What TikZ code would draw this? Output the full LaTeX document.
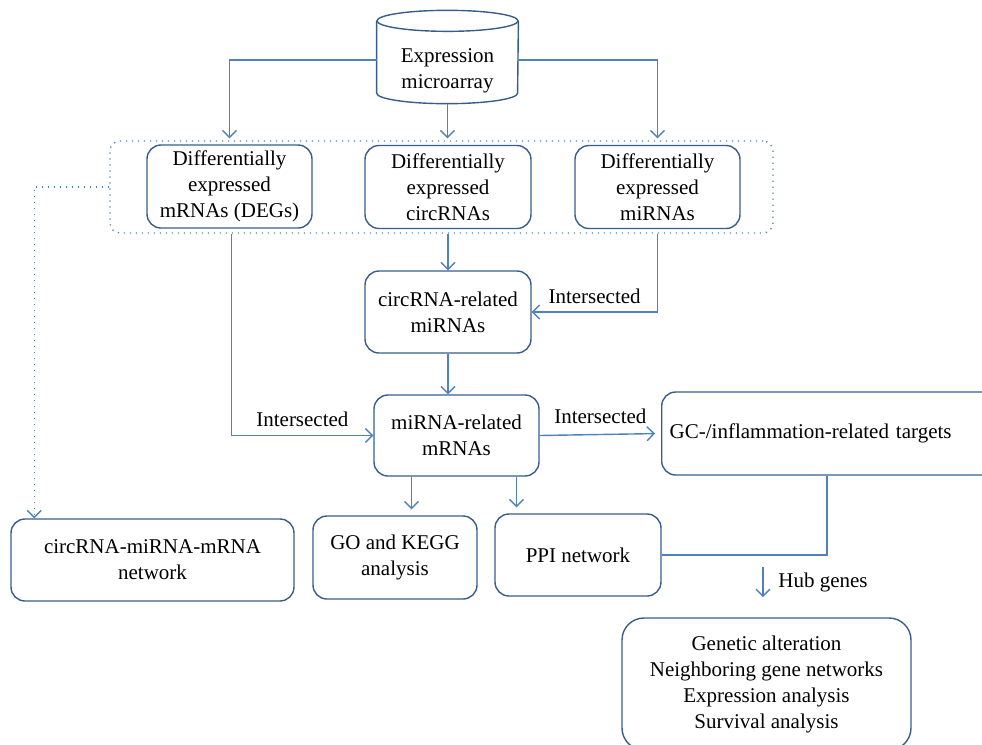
\documentclass[tikz,border=0pt]{standalone}
\usepackage{fontspec}
\setmainfont{Liberation Serif}
\usetikzlibrary{arrows.meta}
\definecolor{lnblue}{RGB}{79,129,189}
\definecolor{bxblue}{RGB}{56,93,138}
\tikzstyle{txt}=[font=\fontsize{10.5}{13}\selectfont, align=center, inner sep=0]
\tikzstyle{box}=[txt, shape=rectangle, draw=bxblue, line width=.7pt, rounded corners=7pt]
\tikzstyle{cyl}=[draw=bxblue, line width=.7pt]
\tikzstyle{ln}=[draw=lnblue, line width=.7pt]
\tikzstyle{arr}=[ln, -{Straight Barb[length=3.5pt,width=7pt]}]
\tikzstyle{dots}=[ln, dash pattern=on .6pt off 2.4pt]

\begin{document}
\begin{tikzpicture}[x=.5pt, y=-.5pt]
\useasboundingbox (0,0) rectangle (982,745);
\clip (0,0) rectangle (982,745);
%\draw[help lines,step=50] (0,0) grid (982,745);
\node at (447.5,57)[txt, text height=33.5pt, minimum width=70.5pt, minimum height=34.5pt](db){Expression\\microarray};
\draw[cyl] (db.north west) -- (db.south west) arc[start angle=180, end angle=360, x radius=35.25pt, y radius=5.25pt] -- (db.north east);
\draw[cyl] (db.north) ellipse [x radius=35.25pt, y radius=5.25pt];
\node at (441.5,187)[dots, rounded corners=5pt, minimum width=331.5pt, minimum height=46pt](grp){};
\node at (229.5,186.5)[box, minimum width=82.5pt, minimum height=41.5pt](degs){Differentially\\expressed\\mRNAs (DEGs)};
\node at (448,187)[box, minimum width=83pt, minimum height=41.5pt](circ){Differentially\\expressed\\circRNAs};
\node at (657.5,187)[box, minimum width=82.5pt, minimum height=41.5pt](mirna){Differentially\\expressed\\miRNAs};
\node at (448,312)[box, minimum width=83pt, minimum height=41pt](crel){circRNA-related\\miRNAs};
\node at (456.5,435.5)[box, minimum width=82.5pt, minimum height=40.5pt](mrel){miRNA-related\\mRNAs};
\node at (661,433.5)[box, anchor=west, align=left, text width=161pt, inner xsep=4pt, minimum height=41.5pt](gc){GC-/inflammation-related targets};
\node at (152.5,560)[box, minimum width=141.5pt, minimum height=41pt](net){circRNA-miRNA-mRNA\\network};
\node at (395,557.5)[box, minimum width=82pt, minimum height=41.5pt](go){GO and KEGG\\analysis};
\node at (578,555)[box, minimum width=83pt, minimum height=41pt](ppi){PPI network};
\node at (766.5,684)[box, rounded corners=11pt, minimum width=144.5pt, minimum height=66pt](res){Genetic alteration\\Neighboring gene networks\\Expression analysis\\Survival analysis};
\coordinate (h1) at (763,567);
\coordinate (h2) at (763,597);
\node at (823,582)[txt](hub){Hub genes};
% connectors
\draw[arr, shorten >=1pt] ([yshift=-1.5pt]db.west) -| (degs.north |- grp.north);
\draw[arr, shorten >=1pt] ([yshift=-5.25pt]db.south) -- (db.south |- grp.north);
\draw[arr, shorten >=1pt] ([yshift=-1.5pt]db.east) -| (mirna.north |- grp.north);
\draw[dots, -{Straight Barb[length=3.5pt,width=7pt]}] (grp.west) -| ([xshift=12pt]net.north west);
\draw[arr] (circ.south |- grp.south) -- (crel.north);
\draw[arr] (mirna.south |- grp.south) |- (crel.east) node[pos=.75, above=4pt, txt]{Intersected};
\draw[arr] (crel.south) -- (crel.south |- mrel.north);
\draw[arr] ([xshift=1pt]degs.south |- grp.south) |- (mrel.west) node[pos=.75, above=4pt, txt]{Intersected};
\draw[arr, shorten >=3pt] (mrel.east) -- (gc.west) node[midway, above=5pt, txt]{Intersected};
\draw[arr, shorten >=3pt] ([xshift=-22.5pt]mrel.south) -- ([xshift=-22.5pt]mrel.south |- go.north);
\draw[arr, shorten >=3pt] ([xshift=30pt]mrel.south) -- ([xshift=30pt]mrel.south |- ppi.north);
\draw[ln] ([xshift=83pt]gc.south west) |- (ppi.east);
\draw[arr] (h1) -- (h2);
\end{tikzpicture}
\end{document}
